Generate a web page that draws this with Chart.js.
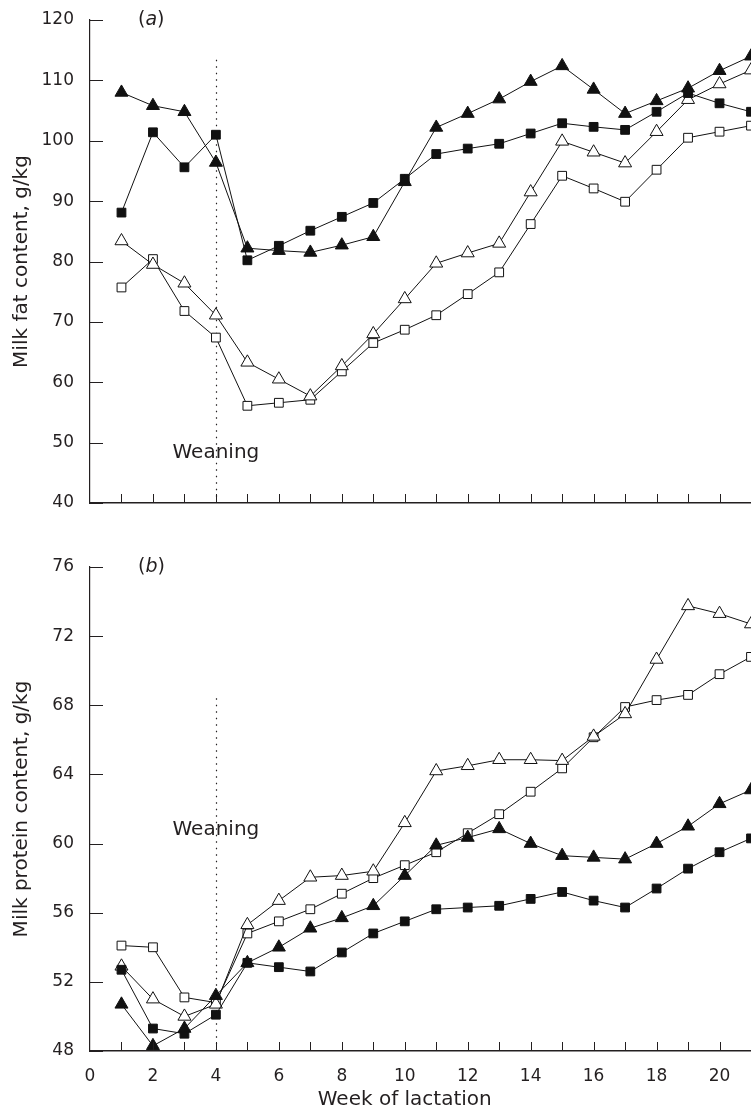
<!DOCTYPE html>
<html>
<head>
<meta charset="utf-8">
<title>Milk fat and protein content by week of lactation</title>
<script src="https://cdn.jsdelivr.net/npm/chart.js@4.4.1/dist/chart.umd.min.js"></script>
<style>
  html, body { margin: 0; padding: 0; background: #fff; overflow: hidden; }
  #wrap { position: relative; width: 751px; height: 1116px; }
  .pane { position: absolute; left: 0; width: 751px; }
  #pa { top: 0; height: 540px; }
  #pb { top: 540px; height: 576px; }
</style>
</head>
<body>
<div id="wrap">
  <div class="pane" id="pa"><canvas id="c-fat"></canvas></div>
  <div class="pane" id="pb"><canvas id="c-prot"></canvas></div>
</div>
<script>
/* Milk fat (a) and protein (b) content over weeks of lactation, four groups.
 * Values; week 21 sits on the right edge (cut off). */

const WEEKS = [1, 2, 3, 4, 5, 6, 7, 8, 9, 10, 11, 12, 13, 14, 15, 16, 17, 18, 19, 20, 21];
const WEANING_WEEK = 4;

// (a) milk fat, g/kg
const FAT_FILLED_TRI = [108, 105.8, 104.8, 96.4, 82.2, 81.8, 81.5, 82.7, 84.1, 93.2, 102.2, 104.5, 106.9, 109.8, 112.4, 108.5, 104.5, 106.6, 108.7, 111.6, 114];
const FAT_FILLED_SQ  = [88.1, 101.4, 95.6, 101, 80.2, 82.6, 85.1, 87.4, 89.7, 93.7, 97.8, 98.7, 99.5, 101.2, 102.9, 102.3, 101.8, 104.8, 107.9, 106.2, 104.8];
const FAT_OPEN_TRI   = [83.4, 79.5, 76.4, 71.1, 63.3, 60.5, 57.7, 62.7, 68.0, 73.8, 79.7, 81.4, 83.0, 91.5, 99.9, 98.1, 96.3, 101.5, 106.8, 109.4, 111.7];
const FAT_OPEN_SQ    = [75.7, 80.4, 71.8, 67.4, 56.1, 56.6, 57.1, 61.8, 66.5, 68.7, 71.1, 74.6, 78.2, 86.2, 94.2, 92.1, 89.9, 95.2, 100.5, 101.5, 102.5];

// (b) milk protein, g/kg
const PROT_FILLED_TRI = [50.7, 48.3, 49.3, 51.2, 53.1, 54.0, 55.1, 55.7, 56.4, 58.15, 59.9, 60.35, 60.85, 60.0, 59.3, 59.2, 59.1, 60.0, 61.0, 62.3, 63.1];
const PROT_FILLED_SQ  = [52.7, 49.3, 49.0, 50.1, 53.1, 52.85, 52.6, 53.7, 54.8, 55.5, 56.2, 56.3, 56.4, 56.8, 57.2, 56.7, 56.3, 57.4, 58.55, 59.5, 60.3];
const PROT_OPEN_TRI   = [52.9, 51.0, 50.0, 50.7, 55.3, 56.7, 58.05, 58.15, 58.4, 61.2, 64.2, 64.5, 64.85, 64.85, 64.8, 66.2, 67.5, 70.65, 73.75, 73.3, 72.7];
const PROT_OPEN_SQ    = [54.1, 54.0, 51.1, 50.8, 54.8, 55.5, 56.2, 57.1, 58.0, 58.75, 59.5, 60.6, 61.7, 63.0, 64.35, 66.15, 67.9, 68.3, 68.6, 69.8, 70.8];

const X_LABEL = "Week of lactation";
const FAT_LABEL = "Milk fat content, g/kg";
const PROT_LABEL = "Milk protein content, g/kg";

const INK = "#231f20", LINE = "#111";
const FONT = '"DejaVu Sans", sans-serif';

const pts = (vals) => WEEKS.map((w, i) => ({ x: w, y: vals[i] }));
const series = (vals, style, filled) => ({
  data: pts(vals), borderColor: LINE, borderWidth: 1, clip: false,
  pointStyle: style, pointRadius: style === "triangle" ? 7.5 : 6.2, pointBorderWidth: 1,
  pointBorderColor: LINE, pointBackgroundColor: filled ? LINE : "#fff",
});

const line = (ctx, x1, y1, x2, y2) => { ctx.beginPath(); ctx.moveTo(x1, y1); ctx.lineTo(x2, y2); ctx.stroke(); };

// inward ticks, weaning marker, panel letter, bottom axis title
const deco = {
  id: "deco",
  beforeDatasetsDraw(chart, args, o) {
    const { ctx, chartArea: a, scales: { x, y } } = chart;
    const wx = Math.round(x.getPixelForValue(WEANING_WEEK)) + 0.5;
    ctx.save();
    ctx.strokeStyle = INK; ctx.lineWidth = 1.2; ctx.setLineDash([1.3, 5.2]);
    line(ctx, wx, y.getPixelForValue(o.dashTop), wx, a.bottom);
    ctx.restore();
  },
  afterDraw(chart, args, o) {
    const { ctx, chartArea: a, scales: { x, y } } = chart;
    ctx.save();
    ctx.strokeStyle = INK; ctx.lineWidth = 1;
    for (let w = 1; w <= 20; w++) {
      const px = Math.round(x.getPixelForValue(w)) + 0.5;
      line(ctx, px, a.bottom, px, a.bottom - 9);
    }
    y.ticks.forEach((t) => {
      const py = Math.round(y.getPixelForValue(t.value)) + 0.5;
      line(ctx, a.left, py, a.left + 13, py);
    });
    ctx.fillStyle = INK; ctx.textBaseline = "middle";
    ctx.font = `20px ${FONT}`; ctx.textAlign = "center";
    ctx.fillText("Weaning", x.getPixelForValue(WEANING_WEEK), y.getPixelForValue(o.labelAt));
    // "(a)" with italic letter
    ctx.textAlign = "left";
    let lx = a.left + 48;
    const ly = a.top;
    ctx.font = `19px ${FONT}`; ctx.fillText("(", lx, ly); lx += ctx.measureText("(").width;
    ctx.font = `italic 19px ${FONT}`; ctx.fillText(o.letter, lx, ly); lx += ctx.measureText(o.letter).width;
    ctx.font = `19px ${FONT}`; ctx.fillText(")", lx, ly);
    if (o.xTitle) {
      ctx.font = `20px ${FONT}`; ctx.textAlign = "center";
      ctx.fillText(o.xTitle, (x.getPixelForValue(0) + x.getPixelForValue(20)) / 2, chart.height - 16);
    }
    ctx.restore();
  },
};

function panel(id, sets, yMin, yMax, yStep, yTitle, xLabels, xHeight, padTop, decoOpts) {
  return new Chart(document.getElementById(id), {
    type: "line",
    data: { datasets: sets },
    options: {
      responsive: true, maintainAspectRatio: false, animation: false,
      layout: { autoPadding: false, padding: { top: padTop, right: 0, bottom: 0, left: 0 } },
      plugins: { legend: { display: false }, tooltip: { enabled: false }, deco: decoOpts },
      scales: {
        x: {
          type: "linear", min: 0, max: 21,
          grid: { display: false },
          border: { display: true, color: INK, width: 1.5 },
          ticks: { display: xLabels, stepSize: 2, padding: 7, color: INK, font: { family: FONT, size: 17 } },
          afterBuildTicks: (s) => { s.ticks = s.ticks.filter((t) => t.value <= 20); },
          afterFit: (s) => { s.height = xHeight; },
        },
        y: {
          min: yMin, max: yMax,
          grid: { display: false },
          border: { display: true, color: INK, width: 1.2 },
          ticks: { stepSize: yStep, padding: 8, color: INK, font: { family: FONT, size: 17 } },
          title: { display: true, text: yTitle, color: INK, font: { family: FONT, size: 20 }, padding: { top: 10, bottom: 0 } },
          afterFit: (s) => { s.width = 90; },
        },
      },
    },
    plugins: [deco],
  });
}

panel("c-fat", [
  series(FAT_FILLED_TRI, "triangle", true),
  series(FAT_FILLED_SQ, "rect", true),
  series(FAT_OPEN_TRI, "triangle", false),
  series(FAT_OPEN_SQ, "rect", false),
], 40, 120, 10, FAT_LABEL, false, 37, 20, { letter: "a", dashTop: 113.4, labelAt: 48.3 });

panel("c-prot", [
  series(PROT_FILLED_TRI, "triangle", true),
  series(PROT_FILLED_SQ, "rect", true),
  series(PROT_OPEN_TRI, "triangle", false),
  series(PROT_OPEN_SQ, "rect", false),
], 48, 76, 4, PROT_LABEL, true, 65, 27, { letter: "b", dashTop: 68.4, labelAt: 60.8, xTitle: X_LABEL });
</script>
</body>
</html>
